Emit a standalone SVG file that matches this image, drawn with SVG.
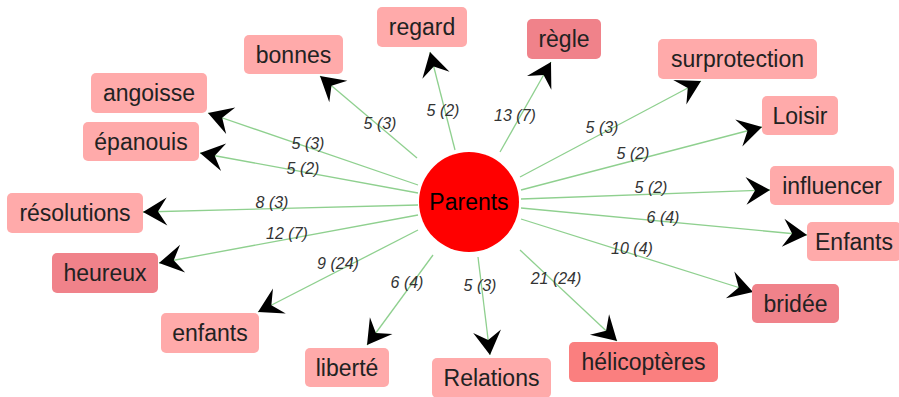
<svg xmlns="http://www.w3.org/2000/svg" width="899" height="397" viewBox="0 0 899 397">
<style>
.n rect{fill:#ffaaaa;}
.n.d rect{fill:#f0828a;}
.n.h rect{fill:#fa7f7f;}
.n text{font-family:"Liberation Sans",Arial,sans-serif;font-size:23px;fill:#222;text-anchor:middle;}
.e line{stroke:#8fd08f;stroke-width:1.3;marker-end:url(#arr);}
.e text{font-family:"Liberation Sans",Arial,sans-serif;font-size:16px;font-style:italic;fill:#333;text-anchor:middle;}
</style>
<defs>
<marker id="arr" markerUnits="userSpaceOnUse" markerWidth="32" markerHeight="32" viewBox="-26 -16 28 32" refX="0" refY="0" orient="auto">
<path d="M0,0 L-24,-14 L-15,0 L-24,14 Z" fill="#000"/>
</marker>
</defs>
<rect width="899" height="397" fill="#fff"/>
<g id="connectors" class="e">
<line x1="455" y1="150" x2="430" y2="52"/>
<line x1="417" y1="158" x2="320" y2="76"/>
<line x1="418" y1="185" x2="208" y2="113"/>
<line x1="418" y1="193" x2="200" y2="153"/>
<line x1="418" y1="205" x2="143" y2="212"/>
<line x1="418" y1="215" x2="159" y2="263"/>
<line x1="418" y1="230" x2="258" y2="312"/>
<line x1="433" y1="255" x2="367" y2="345"/>
<line x1="478" y1="257" x2="490" y2="355"/>
<line x1="520" y1="250" x2="617" y2="341"/>
<line x1="521" y1="219" x2="753" y2="292"/>
<line x1="521" y1="208" x2="807" y2="235"/>
<line x1="521" y1="199" x2="770" y2="190"/>
<line x1="521" y1="190" x2="762" y2="127"/>
<line x1="520" y1="177" x2="701" y2="81"/>
<line x1="500" y1="152" x2="551" y2="62"/>
<text x="443" y="116">5 (2)</text>
<text x="380" y="129">5 (3)</text>
<text x="308" y="149">5 (3)</text>
<text x="303" y="174">5 (2)</text>
<text x="272" y="208">8 (3)</text>
<text x="287" y="239">12 (7)</text>
<text x="338" y="269">9 (24)</text>
<text x="407" y="288">6 (4)</text>
<text x="480" y="291">5 (3)</text>
<text x="556" y="284">21 (24)</text>
<text x="632" y="254">10 (4)</text>
<text x="663" y="223">6 (4)</text>
<text x="651" y="193">5 (2)</text>
<text x="633" y="159">5 (2)</text>
<text x="602" y="133">5 (3)</text>
<text x="515" y="121">13 (7)</text>
</g>
<g id="parents">
<circle cx="469" cy="202" r="50" fill="#ff0000"/>
<text x="469" y="210" font-family="Liberation Sans,Arial,sans-serif" font-size="23" fill="#000" text-anchor="middle">Parents</text>
</g>
<g id="regard" class="n"><rect x="377" y="7" width="90" height="40" rx="5"/><text x="422" y="35">regard</text></g>
<g id="bonnes" class="n"><rect x="244" y="35" width="99" height="39" rx="5"/><text x="293.5" y="62.5">bonnes</text></g>
<g id="angoisse" class="n"><rect x="91" y="73" width="116" height="40" rx="5"/><text x="149" y="101">angoisse</text></g>
<g id="epanouis" class="n"><rect x="83" y="122" width="116" height="39" rx="5"/><text x="141" y="149.5">épanouis</text></g>
<g id="resolutions" class="n"><rect x="7" y="193" width="136" height="40" rx="5"/><text x="75" y="221">résolutions</text></g>
<g id="heureux" class="n d"><rect x="52" y="253" width="106" height="40" rx="5"/><text x="105" y="281">heureux</text></g>
<g id="enfants" class="n"><rect x="161" y="313" width="98" height="40" rx="5"/><text x="210" y="341">enfants</text></g>
<g id="liberte" class="n"><rect x="305" y="348" width="84" height="39" rx="5"/><text x="347" y="375.5">liberté</text></g>
<g id="relations" class="n"><rect x="432" y="358" width="119" height="40" rx="5"/><text x="491.5" y="386">Relations</text></g>
<g id="helicopteres" class="n h"><rect x="569" y="342" width="149" height="40" rx="5"/><text x="643.5" y="370">hélicoptères</text></g>
<g id="bridee" class="n d"><rect x="752" y="284" width="87" height="39" rx="5"/><text x="795.5" y="311.5">bridée</text></g>
<g id="Enfants2" class="n"><rect x="807" y="222" width="94" height="39" rx="5"/><text x="854" y="249.5">Enfants</text></g>
<g id="influencer" class="n"><rect x="770" y="166" width="124" height="39" rx="5"/><text x="832" y="193.5">influencer</text></g>
<g id="loisir" class="n"><rect x="762" y="96" width="76" height="39" rx="5"/><text x="800" y="123.5">Loisir</text></g>
<g id="surprotection" class="n"><rect x="658" y="39" width="159" height="40" rx="5"/><text x="737.5" y="67">surprotection</text></g>
<g id="regle" class="n d"><rect x="527" y="19" width="74" height="40" rx="5"/><text x="564" y="47">règle</text></g>
</svg>
